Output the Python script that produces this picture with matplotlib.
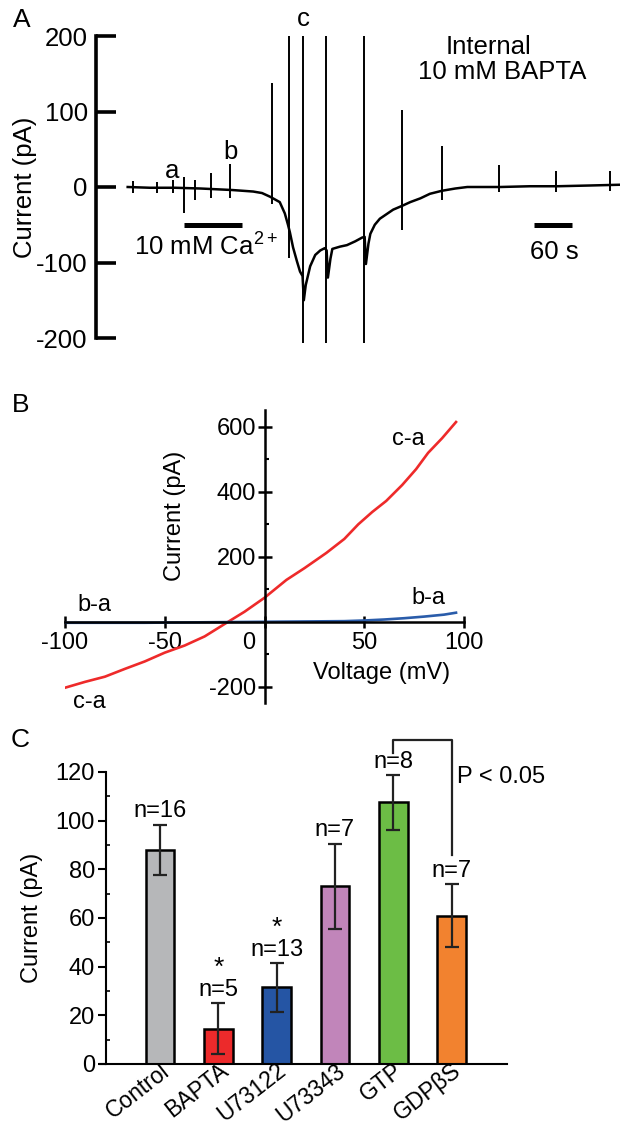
import matplotlib
matplotlib.use('Agg')
import matplotlib.pyplot as plt
from matplotlib.transforms import ScaledTranslation

plt.rcParams['font.family'] = ['Liberation Sans', 'DejaVu Sans']
plt.rcParams['axes.unicode_minus'] = False
plt.rcParams['mathtext.fontset'] = 'custom'
plt.rcParams['mathtext.rm'] = 'Liberation Sans'
plt.rcParams['mathtext.it'] = 'Liberation Sans'

# ---- panel A: current trace (time in s, current in pA)
trace_t = [50, 85, 125, 165, 215, 248, 262, 275, 290, 298, 303, 306, 311, 317, 322, 326, 328, 331,
           338, 346, 354, 361, 364, 366, 370, 373, 385, 396, 409, 420, 424, 426, 430, 433, 440, 448,
           469, 483, 496, 512, 527, 546, 567, 586, 638, 685, 728, 780, 827]
trace_i = [0, -1, -1, -2, -4, -6, -8, -13, -20, -35, -50, -60, -80, -98, -112, -118, -150, -130,
           -105, -90, -84, -81, -84, -120, -95, -82, -79, -77, -72, -67, -66, -102, -75, -62, -50, -42,
           -30, -25, -20, -15, -9, -5, -2, 0, 0, 1, 1, 2, 3]
spike_t = [58, 96, 122, 139, 156, 182, 212, 278, 305, 327, 363, 423, 483, 546, 636, 726, 812]
spike_top = [8, 7, 9, 13, 9, 18, 30, 138, 200, 200, 200, 200, 102, 54, 29, 21, 21]
spike_bot = [-8, -8, -8, -34, -17, -15, -14, -22, -94, -207, -207, -207, -57, -17, -6, -6, -5]
ca_on, ca_off = 139, 231

# ---- panel B: I-V curves
v_ca = [-100, -90, -80, -70, -60, -50, -40, -30, -19, -10, 0, 11, 20, 31, 40, 47, 54, 61, 69, 76, 82, 89, 96]
i_ca = [-203, -185, -169, -145, -122, -95, -73, -45, -3, 31, 74, 129, 165, 212, 255, 300, 338, 372,
        421, 470, 520, 565, 615]
v_ba = [-100, -80, -60, -40, -20, 0, 20, 40, 50, 60, 70, 80, 90, 96]
i_ba = [-3, -3, -3, -2, -1, 0, 1, 2, 4, 7, 11, 16, 22, 28]

# ---- panel C: mean current
groups = ['Control', 'BAPTA', 'U73122', 'U73343', 'GTP', 'GDPβS']
means = [88, 14.5, 31.5, 73, 107.5, 61]
sems = [10.3, 10.5, 10, 17.5, 11.2, 12.8]
n_cells = [16, 5, 13, 7, 8, 7]
starred = [False, True, True, False, False, False]
colors = ['#b6b7b9', '#ec2a2b', '#2555a4', '#c185ba', '#6cbd45', '#f2822f']

W, H = 620, 1128
fig = plt.figure(figsize=(6.2, 11.28), dpi=100)


def box(x0, y0, x1, y1):
    return [x0 / W, 1 - y1 / H, (x1 - x0) / W, (y1 - y0) / H]


fsA = 18.5
fs = 17

# A
axA = fig.add_axes(box(96, 36, 620, 338))
axA.set_xlim(0, 827)
axA.set_ylim(-200, 200)
for s in ['top', 'right', 'bottom']:
    axA.spines[s].set_visible(False)
axA.spines['left'].set_linewidth(2.6)
axA.set_xticks([])
axA.set_yticks([-200, -100, 0, 100, 200])
axA.tick_params(axis='y', direction='in', length=14.5, width=2.6, pad=6, labelsize=fsA)
axA.set_ylabel('Current (pA)', fontsize=fsA)
axA.yaxis.set_label_coords(-0.113, 0.5)
axA.plot(trace_t, trace_i, color='black', lw=1.8)
axA.vlines(spike_t, spike_bot, spike_top, color='black', lw=1.4, clip_on=False)
axA.plot([ca_on, ca_off], [-50, -50], color='black', lw=3.6, solid_capstyle='butt')
axA.text(174, -80, '10 mM Ca$^{2+}$', fontsize=fsA, ha='center', va='center')
axA.plot([692, 752], [-50, -50], color='black', lw=3.6, solid_capstyle='butt')
axA.text(723, -86, '60 s', fontsize=fsA, ha='center', va='center')
axA.text(620, 185, 'Internal', fontsize=fsA, ha='center', va='center')
axA.text(641, 152, '10 mM BAPTA', fontsize=fsA, ha='center', va='center')
axA.text(120, 21, 'a', fontsize=fsA, ha='center', va='center')
axA.text(213, 46, 'b', fontsize=fsA, ha='center', va='center')
axA.text(327, 222, 'c', fontsize=fsA, ha='center', va='center', clip_on=False)
fig.text(22 / W, 1 - 20 / H, 'A', fontsize=19, ha='center', va='center')

# B
axB = fig.add_axes(box(65, 410, 464, 703))
axB.set_xlim(-100, 100)
axB.set_ylim(-250, 652)
axB.spines['top'].set_visible(False)
axB.spines['right'].set_visible(False)
axB.spines['left'].set_position(('data', 0))
axB.spines['bottom'].set_position(('data', 0))
axB.spines['left'].set_linewidth(1.8)
axB.spines['bottom'].set_linewidth(1.8)
axB.set_xticks([-100, -50, 0, 50, 100])
axB.set_yticks([-200, 200, 400, 600])
axB.set_yticks([-100, 100, 300, 500], minor=True)
axB.tick_params(axis='x', direction='inout', length=8, width=1.8, pad=3, labelsize=fs)
axB.tick_params(axis='y', direction='inout', length=10, width=1.8, pad=1, labelsize=fs)
axB.tick_params(axis='y', which='minor', direction='in', length=3, width=1.5)
for lab in axB.get_xticklabels():
    if lab.get_text() == '0':
        lab.set_transform(lab.get_transform() + ScaledTranslation(-0.16, 0, fig.dpi_scale_trans))
axB.plot(v_ca, i_ca, color='#ee2a2a', lw=1.9)
axB.plot(v_ba, i_ba, color='#2a5caa', lw=1.9)
axB.text(-45, 325, 'Current (pA)', fontsize=fs, rotation=90, ha='center', va='center')
axB.text(58.6, -157, 'Voltage (mV)', fontsize=fs, ha='center', va='center')
axB.text(72, 563, 'c-a', fontsize=fs, ha='center', va='center')
axB.text(82, 74, 'b-a', fontsize=fs, ha='center', va='center')
axB.text(-85, 52, 'b-a', fontsize=fs, ha='center', va='center')
axB.text(-88, -246, 'c-a', fontsize=fs, ha='center', va='center', clip_on=False)
fig.text(21 / W, 1 - 405 / H, 'B', fontsize=19, ha='center', va='center')

# C
axC = fig.add_axes(box(100, 772, 507, 1064))
x = list(range(len(groups)))
axC.set_xlim(-1.03, 5.95)
axC.set_ylim(0, 120)
axC.spines['top'].set_visible(False)
axC.spines['right'].set_visible(False)
axC.spines['left'].set_position(('data', -0.926))
axC.spines['left'].set_bounds(0, 120)
axC.spines['left'].set_linewidth(1.5)
axC.spines['bottom'].set_linewidth(1.5)
axC.bar(x, means, width=0.49, color=colors, edgecolor='black', linewidth=1.8, zorder=2)
axC.errorbar(x, means, yerr=sems, fmt='none', ecolor='#222222', elinewidth=1.6,
             capsize=4.7, capthick=1.6, zorder=3)
axC.set_yticks(range(0, 121, 20))
axC.set_yticks(range(10, 120, 20), minor=True)
axC.tick_params(axis='y', direction='out', length=6, width=1.5, pad=2, labelsize=fs)
axC.tick_params(axis='y', which='minor', direction='in', length=3, width=1.2)
axC.set_xticks(x)
axC.set_xticklabels(groups, rotation=38, ha='right', va='center', rotation_mode='anchor', fontsize=16.5)
axC.tick_params(axis='x', length=0, pad=3)
for lab in axC.get_xticklabels():
    lab.set_transform(lab.get_transform() + ScaledTranslation(0.07, 0, fig.dpi_scale_trans))
axC.set_ylabel('Current (pA)', fontsize=fs)
axC.yaxis.set_label_coords(-0.14, 0.5)
for xi, m, e, n, st in zip(x, means, sems, n_cells, starred):
    axC.text(xi, m + e + 5.5, 'n=%d' % n, fontsize=fs, ha='center', va='center', clip_on=False)
    if st:
        axC.text(xi, m + e + 14.5, '*', fontsize=fs + 2, ha='center', va='center')
# significance bracket GTP vs GDPbS
i1, i2 = groups.index('GTP'), groups.index('GDPβS')
top = 133
axC.plot([i1, i1, i2, i2], [top - 5, top, top, means[i2] + sems[i2] + 12],
         color='#222222', lw=1.6, clip_on=False)
axC.text(i2 + 0.1, 118, 'P < 0.05', fontsize=fs, ha='left', va='center')
fig.text(20 / W, 1 - 740 / H, 'C', fontsize=19, ha='center', va='center')

fig.savefig('out.png', dpi=100)
